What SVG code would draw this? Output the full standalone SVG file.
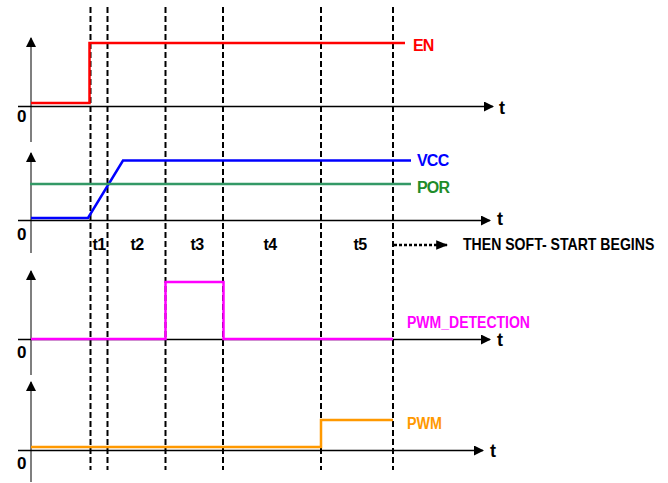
<svg xmlns="http://www.w3.org/2000/svg" width="668" height="483" viewBox="0 0 668 483">
<defs>
<marker id="ah" viewBox="0 0 10 10" refX="9" refY="5" markerWidth="10" markerHeight="10" markerUnits="userSpaceOnUse" orient="auto">
<path d="M0,0 L10,5 L0,10 Z" fill="#000"/>
</marker>
<marker id="ah2" viewBox="0 0 10 10" refX="9" refY="5" markerWidth="12" markerHeight="12" markerUnits="userSpaceOnUse" orient="auto">
<path d="M0,1 L10,5 L0,9 Z" fill="#000"/>
</marker>
</defs>
<style>
text{font-family:"Liberation Sans",Arial,sans-serif;font-weight:bold;}
.lbl{font-size:16px;letter-spacing:-0.8px;}
.zero{font-size:17px;fill:#000;}
.t{font-size:18px;fill:#000;}
.iv{font-size:16px;fill:#000;letter-spacing:-0.6px;}
.xax{stroke:#000;stroke-width:1.5;fill:none;}
.yax{stroke:#555;stroke-width:1.5;fill:none;}
.dash{stroke:#000;stroke-width:2;stroke-dasharray:6,3;fill:none;}
.sig{fill:none;stroke-width:2.5;stroke-linejoin:miter;}
</style>
<rect width="668" height="483" fill="#fff"/>
<g id="axes">
<line class="yax" x1="31" y1="142" x2="31" y2="38" marker-end="url(#ah)"/>
<line class="xax" x1="18" y1="106.5" x2="493" y2="106.5" marker-end="url(#ah)"/>
<line class="yax" x1="31" y1="253" x2="31" y2="153" marker-end="url(#ah)"/>
<line class="xax" x1="18" y1="220.5" x2="490" y2="220.5" marker-end="url(#ah)"/>
<line class="yax" x1="31" y1="375" x2="31" y2="271" marker-end="url(#ah)"/>
<line class="xax" x1="18" y1="339.5" x2="490" y2="339.5" marker-end="url(#ah)"/>
<line class="yax" x1="31" y1="482" x2="31" y2="382" marker-end="url(#ah)"/>
<line class="xax" x1="18" y1="450.5" x2="483" y2="450.5" marker-end="url(#ah)"/>
<text class="zero" x="17" y="122">0</text>
<text class="zero" x="17" y="240">0</text>
<text class="zero" x="17" y="358">0</text>
<text class="zero" x="17" y="469">0</text>
<text class="t" x="499" y="114">t</text>
<text class="t" x="497" y="225">t</text>
<text class="t" x="497" y="346">t</text>
<text class="t" x="490" y="457">t</text>
</g>
<g id="markers">
<line class="dash" x1="90.5" y1="7" x2="90.5" y2="470"/>
<line class="dash" x1="107.5" y1="7" x2="107.5" y2="470"/>
<line class="dash" x1="165.5" y1="7" x2="165.5" y2="470"/>
<line class="dash" x1="223" y1="7" x2="223" y2="470"/>
<line class="dash" x1="321" y1="7" x2="321" y2="470"/>
<line class="dash" x1="393" y1="7" x2="393" y2="470"/>
</g>
<g id="EN">
<polyline class="sig" stroke="#ff0000" points="31,103 89.5,103 89.5,43 405,43"/>
<text class="lbl" x="413" y="51" fill="#ff0000">EN</text>
</g>
<g id="VCC">
<polyline class="sig" stroke="#0000ff" points="31,218 88,218 123,160.5 411,160.5"/>
<text class="lbl" x="417" y="166" fill="#0000ff">VCC</text>
</g>
<g id="POR">
<line x1="30" y1="184" x2="411" y2="184" stroke="#339966" stroke-width="2.5"/>
<text class="lbl" x="417" y="193" fill="#1f8c2a">POR</text>
</g>
<g id="intervals">
<text class="iv" x="99" y="250" text-anchor="middle">t1</text>
<text class="iv" x="137" y="250" text-anchor="middle">t2</text>
<text class="iv" x="197" y="250" text-anchor="middle">t3</text>
<text class="iv" x="270" y="250" text-anchor="middle">t4</text>
<text class="iv" x="360" y="250" text-anchor="middle">t5</text>
</g>
<g id="softstart">
<line x1="394" y1="245" x2="447" y2="245" stroke="#000" stroke-width="2.5" stroke-dasharray="3,2" marker-end="url(#ah2)"/>
<text transform="translate(463,250) scale(0.88,1)" x="0" y="0" font-size="16" fill="#000">THEN SOFT- START BEGINS</text>
</g>
<g id="PWM_DETECTION">
<polyline class="sig" stroke="#ff00ff" points="31,339 165.5,339 165.5,282 223.5,282 223.5,339 393,339"/>
<text x="407" y="328" font-size="16" fill="#ff00ff" textLength="123" lengthAdjust="spacingAndGlyphs">PWM_DETECTION</text>
</g>
<g id="PWM">
<polyline class="sig" stroke="#ff9900" points="31,447 321,447 321,420 393,420"/>
<text x="407" y="429" font-size="16" fill="#ff9900" textLength="35" lengthAdjust="spacingAndGlyphs">PWM</text>
</g>
</svg>
